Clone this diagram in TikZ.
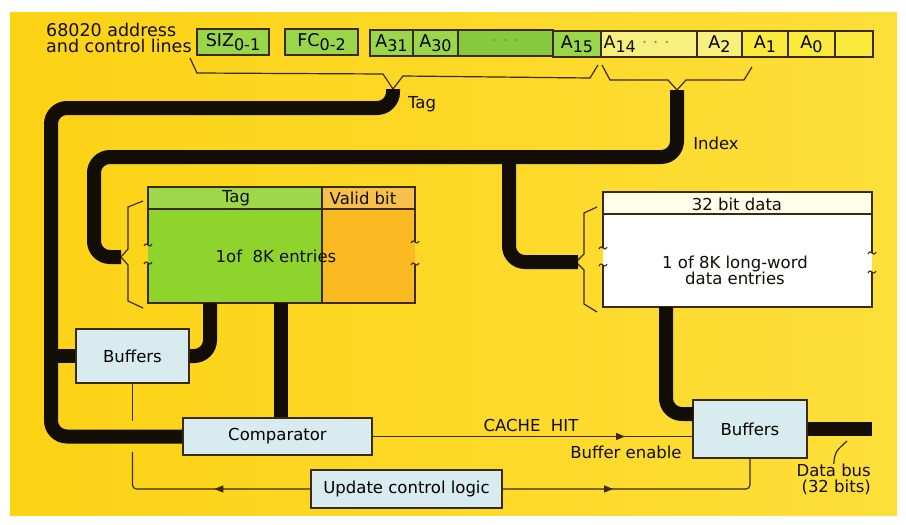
\documentclass[tikz,border=0pt]{standalone}
\usepackage{fontspec}
\setmainfont{DejaVu Sans}
\usetikzlibrary{arrows.meta,decorations.markings}
\definecolor{bgL}{HTML}{FCD214}
\definecolor{bgR}{HTML}{FDDF3A}
\definecolor{lineK}{HTML}{120E06}
\definecolor{edge}{HTML}{3A2A10}
\definecolor{gA}{HTML}{9AD64A}
\definecolor{gDots}{HTML}{86C83E}
\definecolor{paleY}{HTML}{F8F07E}
\definecolor{ltY}{HTML}{F9EA3C}
\definecolor{ramG}{HTML}{8ED42C}
\definecolor{ramGh}{HTML}{9CD84A}
\definecolor{ramO}{HTML}{FBB922}
\definecolor{ramOh}{HTML}{F6C04A}
\definecolor{boxB}{HTML}{D8EBEE}
\definecolor{dotc}{HTML}{7A9A50}
\newcommand\lsub[1]{\raisebox{-4pt}{\fontsize{16}{16}\selectfont #1}}
\newcommand\brkmark[2]{\draw[edge,line width=1.1pt] (#1-4,#2+1) .. controls (#1-1,#2-5) and (#1+1,#2+5) .. (#1+4,#2-1);}
\tikzset{
  bus/.style={line width=14pt, draw=lineK, rounded corners=16pt},
  reg/.style={draw=edge, line width=1.3pt, minimum height=26pt, inner sep=0pt, font=\fontsize{17.5}{17}\selectfont},
  blk/.style={draw=edge, line width=1.8pt, fill=boxB, inner sep=0pt},
  thinl/.style={draw=edge, line width=1.2pt},
  lbl/.style={inner sep=0pt, text=lineK},
  midarrow/.style={postaction={decorate}, decoration={markings, mark=at position #1 with {\arrow[edge]{Triangle[length=9pt,width=7pt]}}}}
}
\begin{document}
\begin{tikzpicture}[x=1pt,y=-1pt, font=\fontsize{16.5}{16}\selectfont]
\useasboundingbox (0,0) rectangle (906,525);
\fill[white] (0,0) rectangle (906,525);
\shade[left color=bgL, right color=bgR] (10,12) rectangle (897,515);

% ---- address / control register ----
\node[lbl, anchor=north west, align=left, font=\fontsize{17.5}{16}\selectfont] (addr) at (46,23) {68020 address\\and control lines};
\node[reg, fill=gA, minimum width=72pt] (siz) at (233,42) {SIZ\lsub{0-1}};
\node[reg, fill=gA, minimum width=73pt] (fc) at (321.5,42) {FC\lsub{0-2}};
\node[reg, fill=gA, minimum width=43pt] (a31) at (391.5,43) {A\lsub{31}};
\node[reg, fill=gA, minimum width=45pt] (a30) at (435.5,43) {A\lsub{30}};
\node[reg, fill=gDots, minimum width=95pt] (adots) at (505.5,43) {\color{dotc}· · ·};
\node[reg, fill=gA, minimum width=48pt] (a15) at (577,44) {A\lsub{15}};
\node[reg, fill=paleY, minimum width=96pt] (a14) at (649,44) {};
\node[lbl, anchor=west, font=\fontsize{17.5}{17}\selectfont] (a14t) at ([xshift=3pt]a14.west) {A\lsub{14}\hspace{6pt}{\color{dotc}· · ·}};
\node[reg, fill=paleY, minimum width=45pt] (a2) at (719.5,44) {A\lsub{2}};
\node[reg, fill=ltY, minimum width=46pt] (a1) at (765,44) {A\lsub{1}};
\node[reg, fill=ltY, minimum width=47pt] (a0) at (811.5,44) {A\lsub{0}};
\node[reg, fill=ltY, minimum width=38pt] (ablank) at (854,44) {};

% braces under register
\coordinate (tagtip) at (393,89);
\coordinate (idxtip) at (677,90);
\draw[thinl] (190,58) -- (197,73) -- (383,74) -- (tagtip) -- (403,76) -- (590,78) -- (598,65);
\draw[thinl] (602,65) -- (610,80) -- (668,80) -- (idxtip) -- (686,80) -- (744,80) -- (752,67);
\node[lbl] (taglbl) at (422,104) {Tag};
\node[lbl] (idxlbl) at (716,143) {Index};

% ---- Tag RAM ----
\fill[ramGh] (148,187) rectangle (322,209);
\fill[ramOh] (322,187) rectangle (415,209);
\fill[ramG] (148,209) rectangle (322,303);
\fill[ramO] (322,209) rectangle (415,303);
\draw[edge, line width=1.3pt] (148,245) -- (148,187) -- (415,187) -- (415,242);
\draw[edge, line width=1.3pt] (415,264) -- (415,303) -- (148,303) -- (148,263);
\draw[edge, line width=1.1pt] (148,209) -- (415,209);
\draw[edge, line width=1.3pt] (322,187) -- (322,303);
\brkmark{148}{245}\brkmark{148}{263}\brkmark{415}{242}\brkmark{415}{264}
\node[lbl] (tagh) at (236,198) {Tag};
\node[lbl] (validh) at (363,198) {Valid bit};
\node[lbl] (tagbody) at (276,256) {1of\ \ 8K entries};
\coordinate (tagbrace) at (121,257);
\draw[thinl] (143,201) -- (128,207) -- (128,249) -- (tagbrace) -- (128,265) -- (128,301) -- (143,308);
\coordinate (tagbotL) at (210,303);
\coordinate (tagbotR) at (281,303);

% ---- Data RAM ----
\fill[white] (603,192) rectangle (872,307);
\fill[white!92!yellow] (603,192) rectangle (872,214);
\draw[edge, line width=1.3pt] (603,248) -- (603,192) -- (872,192) -- (872,253);
\draw[edge, line width=1.3pt] (872,272) -- (872,307) -- (603,307) -- (603,265);
\draw[edge, line width=1.1pt] (603,214) -- (872,214);
\brkmark{603}{248}\brkmark{603}{265}\brkmark{872}{253}\brkmark{872}{272}
\node[lbl] (dath) at (737,204) {32 bit data};
\node[lbl, align=center] (datbody) at (735,270) {1 of 8K long-word\\data entries};
\coordinate (datbrace) at (578,262);
\draw[thinl] (597,207) -- (584,213) -- (584,254) -- (576,262) -- (584,270) -- (584,304) -- (597,312);
\coordinate (datbot) at (666,307);

% ---- blocks ----
\node[blk, minimum width=113pt, minimum height=54pt] (buf1) at (132.5,356) {Buffers};
\node[blk, minimum width=189pt, minimum height=37pt] (cmp) at (277.5,436.5) {Comparator};
\node[blk, minimum width=114pt, minimum height=58pt] (buf2) at (750,429) {Buffers};
\node[blk, minimum width=191pt, minimum height=38pt] (ucl) at (406.5,489) {Update control logic};
\coordinate (buf2in) at (693,414);
\coordinate (dbend) at (872,429);

% thin control lines (drawn before buses)
\coordinate (gapT) at (132.5,421);
\coordinate (gapB) at (132.5,452);
\draw[thinl] (buf1.south) -- (gapT);
\draw[thinl, rounded corners=4pt, midarrow=0.45] (ucl.west) -| (gapB);
\draw[thinl, rounded corners=4pt, midarrow=0.40] (ucl.east) -| (buf2.south);
\draw[thinl, midarrow=0.79] (cmp.east) -- (cmp.east -| buf2.west);
\node[lbl] (cachehit) at (531,425) {CACHE\ \ HIT};
\node[lbl] (bufen) at (626,452) {Buffer enable};

% ---- thick buses ----
\draw[bus] (tagtip) -- (393,108) -| (51,300) |- (cmp.west);
\draw[bus] (51,356) -- (buf1.west);
\draw[bus] (buf1.east) -| (tagbotL);
\draw[bus] (tagbotR) -- (tagbotR |- cmp.north);
\draw[bus] (idxtip) |- (94,157) |- (tagbrace);
\draw[bus] (509,157) |- (datbrace);
\draw[bus] (datbot) |- (buf2in);
\draw[bus] (buf2.east) -- (dbend);

% data bus label
\node[lbl, anchor=north east, align=right] (dbl) at (871,464) {Data bus\\(32 bits)};
\draw[thinl] (dbl.north) .. controls (835,452) .. (847,441);
\end{tikzpicture}
\end{document}
